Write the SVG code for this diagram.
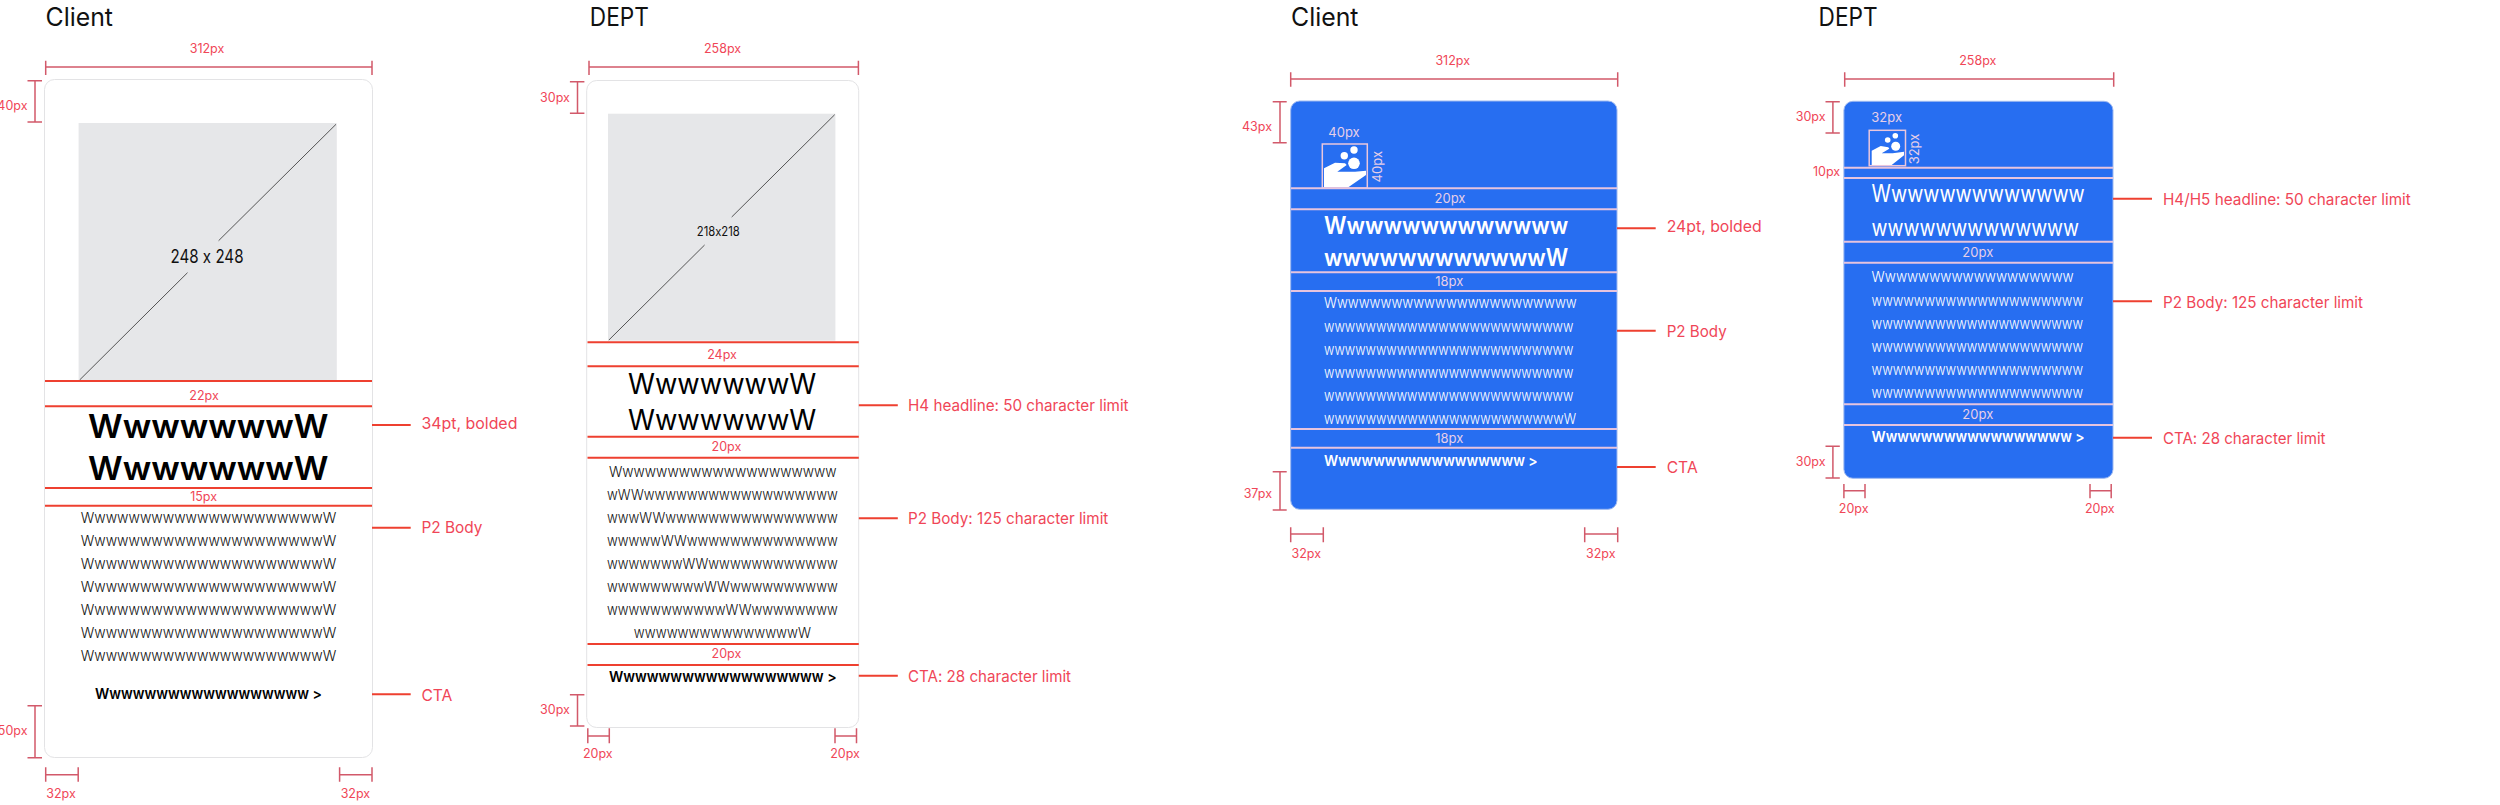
<svg xmlns="http://www.w3.org/2000/svg" width="2500" height="805" viewBox="0 0 2500 805">
<style>
text{font-family:"Inter","Liberation Sans",sans-serif;font-feature-settings:"calt" 0}
.title{font-size:25px;fill:#111}
.dim{font-size:12.5px;fill:#f04657}
.note{font-size:16px;fill:#f04657}
.m{stroke:#d2596a;stroke-width:1.5;fill:none}
.sep{stroke:#ee4030;stroke-width:2;fill:none}
.lead{stroke:#ee4030;stroke-width:2;fill:none}
.lsep{stroke:#e6c4de;stroke-width:2;fill:none}
.ldim{font-size:13px;fill:#e6cfe8}
.card{fill:#fff;stroke:#e3e3e5;stroke-width:1}
.bcard{fill:#276ef1;stroke:#9db8f0;stroke-width:1}
.img{fill:#e6e7e9}
.diag{stroke:#555;stroke-width:1;fill:none}
.head{fill:#000;font-weight:600;font-size:33px}
.head2{fill:#000;font-weight:400;font-size:28px}
.body{fill:#111;font-size:15px;font-weight:300}
.cta{fill:#000;font-weight:600;font-size:15px}
.wh{fill:#fff}
.ibox{fill:none;stroke:#eac6dc;stroke-width:1.5}
</style>

<g id="client-light">
<text class="title" x="45.5" y="26" textLength="67.5" lengthAdjust="spacingAndGlyphs">Client</text>
<rect class="card" x="44.5" y="79.5" width="328" height="678" rx="10"/>
<rect class="img" x="78.6" y="123" width="258.2" height="257"/>
<path class="diag" d="M79.6 380L187.5 272.7M218.6 240.7L336 124.3"/>
<text x="207" y="263.3" font-size="18" fill="#111" text-anchor="middle" textLength="73" lengthAdjust="spacingAndGlyphs">248 x 248</text>
<text class="head" x="88" y="438.3" textLength="240.5" lengthAdjust="spacingAndGlyphs">WwwwwwwW</text>
<text class="head" x="88" y="480" textLength="240.5" lengthAdjust="spacingAndGlyphs">WwwwwwwW</text>
<text class="body" x="80.7" y="522.7" textLength="255.5" lengthAdjust="spacingAndGlyphs">WwwwwwwwwwwwwwwwwwwwwW</text>
<text class="body" x="80.7" y="545.7" textLength="255.5" lengthAdjust="spacingAndGlyphs">WwwwwwwwwwwwwwwwwwwwwW</text>
<text class="body" x="80.7" y="568.7" textLength="255.5" lengthAdjust="spacingAndGlyphs">WwwwwwwwwwwwwwwwwwwwwW</text>
<text class="body" x="80.7" y="591.7" textLength="255.5" lengthAdjust="spacingAndGlyphs">WwwwwwwwwwwwwwwwwwwwwW</text>
<text class="body" x="80.7" y="614.7" textLength="255.5" lengthAdjust="spacingAndGlyphs">WwwwwwwwwwwwwwwwwwwwwW</text>
<text class="body" x="80.7" y="637.7" textLength="255.5" lengthAdjust="spacingAndGlyphs">WwwwwwwwwwwwwwwwwwwwwW</text>
<text class="body" x="80.7" y="660.7" textLength="255.5" lengthAdjust="spacingAndGlyphs">WwwwwwwwwwwwwwwwwwwwwW</text>
<text class="cta" x="95" y="699" textLength="227" lengthAdjust="spacingAndGlyphs">Wwwwwwwwwwwwwwwwww &gt;</text>
</g>

<g id="dept-light">
<text class="title" x="589.8" y="26" textLength="59" lengthAdjust="spacingAndGlyphs">DEPT</text>
<rect class="card" x="586.7" y="80.5" width="272" height="647" rx="10"/>
<rect class="img" x="608" y="113.7" width="227.4" height="227"/>
<path class="diag" d="M608.9 340L704.6 245M731.7 217L834.7 114.7"/>
<text x="718.3" y="235.7" font-size="12.5" fill="#111" text-anchor="middle" textLength="43" lengthAdjust="spacingAndGlyphs">218x218</text>
<text class="head2" x="628" y="394.3" textLength="188.3" lengthAdjust="spacingAndGlyphs">WwwwwwwW</text>
<text class="head2" x="628" y="430" textLength="188.3" lengthAdjust="spacingAndGlyphs">WwwwwwwW</text>
<text class="body" x="608.9" y="476.7" textLength="227.7" lengthAdjust="spacingAndGlyphs">Wwwwwwwwwwwwwwwwwwww</text>
<text class="body" x="607" y="499.7" textLength="230.7" lengthAdjust="spacingAndGlyphs">wWWwwwwwwwwwwwwwwwwww</text>
<text class="body" x="607" y="522.7" textLength="230.7" lengthAdjust="spacingAndGlyphs">wwwWWwwwwwwwwwwwwwwww</text>
<text class="body" x="607" y="545.7" textLength="230.7" lengthAdjust="spacingAndGlyphs">wwwwwWWwwwwwwwwwwwwww</text>
<text class="body" x="607" y="568.7" textLength="230.7" lengthAdjust="spacingAndGlyphs">wwwwwwwWWwwwwwwwwwwww</text>
<text class="body" x="607" y="591.7" textLength="230.7" lengthAdjust="spacingAndGlyphs">wwwwwwwwwWWwwwwwwwwww</text>
<text class="body" x="607" y="614.7" textLength="230.7" lengthAdjust="spacingAndGlyphs">wwwwwwwwwwwWWwwwwwwww</text>
<text class="body" x="633.8" y="637.7" textLength="177.2" lengthAdjust="spacingAndGlyphs">wwwwwwwwwwwwwwwW</text>
<text class="cta" x="608.9" y="681.7" textLength="227.7" lengthAdjust="spacingAndGlyphs">Wwwwwwwwwwwwwwwwww &gt;</text>
</g>

<g id="client-blue">
<text class="title" x="1291" y="26" textLength="67.5" lengthAdjust="spacingAndGlyphs">Client</text>
<rect class="bcard" x="1290.7" y="101" width="326.3" height="408.3" rx="9"/>
<g id="client-icon">
<circle cx="1344.3" cy="155.7" r="3.7" fill="#fff"/>
<circle cx="1354" cy="150" r="3.7" fill="#fff"/>
<circle cx="1354" cy="163.3" r="5.8" fill="#fff"/>
<path fill="#fff" d="M1324 168.3L1335 162.7L1345 163.3L1346.7 165L1337.3 171.7L1355 171.7L1366 170.7L1366 175L1348.3 187.3L1324 187.3Z"/>
<rect class="ibox" x="1322.3" y="144" width="45" height="44"/>
</g>
<text class="ldim" x="1344" y="137.3" text-anchor="middle">40px</text>
<text class="ldim" transform="translate(1381.7 166.7) rotate(-90)" text-anchor="middle">40px</text>
<text class="wh" font-size="24" font-weight="600" x="1324" y="234.3" textLength="244.3" lengthAdjust="spacingAndGlyphs">Wwwwwwwwwwwww</text>
<text class="wh" font-size="24" font-weight="600" x="1324" y="265.7" textLength="244.3" lengthAdjust="spacingAndGlyphs">wwwwwwwwwwwwW</text>
<text class="wh body" x="1324" y="308.3" textLength="252.7" lengthAdjust="spacingAndGlyphs">Wwwwwwwwwwwwwwwwwwwwwww</text>
<text class="wh body" x="1324" y="331.7" textLength="249.3" lengthAdjust="spacingAndGlyphs">wwwwwwwwwwwwwwwwwwwwwwww</text>
<text class="wh body" x="1324" y="354.7" textLength="249.3" lengthAdjust="spacingAndGlyphs">wwwwwwwwwwwwwwwwwwwwwwww</text>
<text class="wh body" x="1324" y="377.7" textLength="249.3" lengthAdjust="spacingAndGlyphs">wwwwwwwwwwwwwwwwwwwwwwww</text>
<text class="wh body" x="1324" y="400.7" textLength="249.3" lengthAdjust="spacingAndGlyphs">wwwwwwwwwwwwwwwwwwwwwwww</text>
<text class="wh body" x="1324" y="423.7" textLength="252" lengthAdjust="spacingAndGlyphs">wwwwwwwwwwwwwwwwwwwwwwwW</text>
<text class="wh cta" x="1324" y="465.7" textLength="213.7" lengthAdjust="spacingAndGlyphs">Wwwwwwwwwwwwwwwww &gt;</text>
</g>

<g id="dept-blue">
<text class="title" x="1818.6" y="26" textLength="59" lengthAdjust="spacingAndGlyphs">DEPT</text>
<rect class="bcard" x="1843.9" y="101.3" width="269.1" height="377" rx="9"/>
<g id="dept-icon">
<circle cx="1887.7" cy="140" r="2.8" fill="#fff"/>
<circle cx="1895.3" cy="135.7" r="2.8" fill="#fff"/>
<circle cx="1895.7" cy="146.3" r="4.5" fill="#fff"/>
<path fill="#fff" d="M1871.7 150.7L1880.7 146L1888.3 147.3L1889.3 148.7L1881.7 153.3L1892.7 153.3L1904 151.7L1904 155.3L1891.7 165L1871.7 165Z"/>
<rect class="ibox" x="1869.2" y="130.3" width="36.3" height="35.4"/>
</g>
<text class="ldim" x="1886.7" y="122.3" text-anchor="middle">32px</text>
<text class="ldim" transform="translate(1918.5 149) rotate(-90)" text-anchor="middle">32px</text>
<text class="wh" font-size="24" x="1871.6" y="202.3" textLength="213.1" lengthAdjust="spacingAndGlyphs">Wwwwwwwwwwwww</text>
<text class="wh" font-size="24" x="1871.6" y="236" textLength="207.4" lengthAdjust="spacingAndGlyphs">wwwwwwwwwwwww</text>
<text class="wh body" x="1871.6" y="282.3" textLength="202.1" lengthAdjust="spacingAndGlyphs">Wwwwwwwwwwwwwwwwww</text>
<text class="wh body" x="1871.6" y="305.7" textLength="211.4" lengthAdjust="spacingAndGlyphs">wwwwwwwwwwwwwwwwwwww</text>
<text class="wh body" x="1871.6" y="328.7" textLength="211.4" lengthAdjust="spacingAndGlyphs">wwwwwwwwwwwwwwwwwwww</text>
<text class="wh body" x="1871.6" y="351.7" textLength="211.4" lengthAdjust="spacingAndGlyphs">wwwwwwwwwwwwwwwwwwww</text>
<text class="wh body" x="1871.6" y="374.7" textLength="211.4" lengthAdjust="spacingAndGlyphs">wwwwwwwwwwwwwwwwwwww</text>
<text class="wh body" x="1871.6" y="397.7" textLength="211.4" lengthAdjust="spacingAndGlyphs">wwwwwwwwwwwwwwwwwwww</text>
<text class="wh cta" x="1871.6" y="441.7" textLength="213.1" lengthAdjust="spacingAndGlyphs">Wwwwwwwwwwwwwwwww &gt;</text>
</g>

<g id="connectors">
<path class="m" d="M45.7 67H372M45.7 60.7V75M372 60.7V75M35 80.7V122M27.5 80.7H42M27.5 122H42M35 705.7V757.7M27.5 705.7H42M27.5 757.7H42M45.7 774.7H78.2M45.7 767.3V781.7M78.2 767.3V781.7M339.6 774.7H372M339.6 767.3V781.7M372 767.3V781.7"/>
<path class="sep" d="M45 381H372M45 406.3H372M45 488H372M45 505.7H372"/>
<path class="lead" d="M372 425H410.7M372 527.7H410.7M372 694.3H410.7"/>
<path class="m" d="M589 67H858.4M589 60.7V75M858.4 60.7V75M577.5 81.7V113.3M569.9 81.7H584.4M569.9 113.3H584.4M577.5 694.7V726M569.9 694.7H584.4M569.9 726H584.4M587.8 736H609.3M587.8 728.3V743.3M609.3 728.3V743.3M835 736H856.5M835 728.3V743.3M856.5 728.3V743.3"/>
<path class="sep" d="M587.5 342.3H858.8M587.5 366.3H858.8M587.5 436.7H858.8M587.5 457.7H858.8M587.5 644H858.8M587.5 665H858.8"/>
<path class="lead" d="M858.8 405.3H897.8M858.8 518.3H897.8M858.8 675.7H897.8"/>
<path class="m" d="M1290.7 79H1617.7M1290.7 72.3V86.7M1617.7 72.3V86.7M1280 101.7V142.7M1272.7 101.7H1286.7M1272.7 142.7H1286.7M1280 471.7V510M1272.7 471.7H1286.7M1272.7 510H1286.7M1290.7 534H1323.3M1290.7 527.3V542.3M1323.3 527.3V542.3M1584.7 534H1617.7M1584.7 527.3V542.3M1617.7 527.3V542.3"/>
<path class="lsep" d="M1291 188.3H1617M1291 209.3H1617M1291 272.3H1617M1291 291H1617M1291 429H1617M1291 447.7H1617"/>
<path class="lead" d="M1617 228.3H1655.7M1617 330.7H1655.7M1617 467H1655.7"/>
<path class="m" d="M1844.7 79H2113.7M1844.7 72.3V86.7M2113.7 72.3V86.7M1832.9 101.7V133M1825.5 101.7H1839.8M1825.5 133H1839.8M1832.9 446.3V478M1825.5 446.3H1839.8M1825.5 478H1839.8M1843.9 490.7H1865M1843.9 484V498.3M1865 484V498.3M2090 490.7H2111.2M2090 484V498.3M2111.2 484V498.3"/>
<path class="lsep" d="M1844 167.7H2113M1844 178H2113M1844 241.7H2113M1844 262.7H2113M1844 404.3H2113M1844 425H2113"/>
<path class="lead" d="M2113 198.7H2152M2113 301.3H2152M2113 437.7H2152"/>
</g>

<g id="annotations">
<text class="dim" x="207" y="53.3" text-anchor="middle">312px</text>
<text class="dim" x="27.5" y="110" text-anchor="end">40px</text>
<text class="dim" x="204" y="400" text-anchor="middle">22px</text>
<text class="dim" x="203.6" y="500.7" text-anchor="middle">15px</text>
<text class="dim" x="27.5" y="735" text-anchor="end">50px</text>
<text class="dim" x="61" y="798.3" text-anchor="middle">32px</text>
<text class="dim" x="355.4" y="798.3" text-anchor="middle">32px</text>
<text class="note" x="421.4" y="429.3" textLength="96" lengthAdjust="spacingAndGlyphs">34pt, bolded</text>
<text class="note" x="421.4" y="533" textLength="61" lengthAdjust="spacingAndGlyphs">P2 Body</text>
<text class="note" x="421.4" y="701" textLength="31" lengthAdjust="spacingAndGlyphs">CTA</text>

<text class="dim" x="722.5" y="53.3" text-anchor="middle">258px</text>
<text class="dim" x="569.9" y="101.7" text-anchor="end">30px</text>
<text class="dim" x="722" y="359.3" text-anchor="middle">24px</text>
<text class="dim" x="726.4" y="451" text-anchor="middle">20px</text>
<text class="dim" x="726.4" y="658.3" text-anchor="middle">20px</text>
<text class="dim" x="569.9" y="714" text-anchor="end">30px</text>
<text class="dim" x="597.8" y="758.3" text-anchor="middle">20px</text>
<text class="dim" x="845" y="758.3" text-anchor="middle">20px</text>
<text class="note" x="908" y="411" textLength="220.6" lengthAdjust="spacingAndGlyphs">H4 headline: 50 character limit</text>
<text class="note" x="908" y="524" textLength="200.3" lengthAdjust="spacingAndGlyphs">P2 Body: 125 character limit</text>
<text class="note" x="908" y="681.7" textLength="163" lengthAdjust="spacingAndGlyphs">CTA: 28 character limit</text>

<text class="dim" x="1452.7" y="65" text-anchor="middle">312px</text>
<text class="dim" x="1272" y="130.7" text-anchor="end">43px</text>
<text class="dim" x="1272" y="498.3" text-anchor="end">37px</text>
<text class="dim" x="1306.3" y="558.3" text-anchor="middle">32px</text>
<text class="dim" x="1600.7" y="558.3" text-anchor="middle">32px</text>
<text class="ldim" x="1450" y="202.7" text-anchor="middle">20px</text>
<text class="ldim" x="1449.3" y="286" text-anchor="middle">18px</text>
<text class="ldim" x="1449.3" y="442.7" text-anchor="middle">18px</text>
<text class="note" x="1666.7" y="232.3" textLength="95" lengthAdjust="spacingAndGlyphs">24pt, bolded</text>
<text class="note" x="1666.7" y="336.7" textLength="60" lengthAdjust="spacingAndGlyphs">P2 Body</text>
<text class="note" x="1666.7" y="472.7" textLength="31" lengthAdjust="spacingAndGlyphs">CTA</text>

<text class="dim" x="1977.8" y="65" text-anchor="middle">258px</text>
<text class="dim" x="1825.5" y="121" text-anchor="end">30px</text>
<text class="dim" x="1840.2" y="175.7" text-anchor="end">10px</text>
<text class="dim" x="1825.5" y="466" text-anchor="end">30px</text>
<text class="dim" x="1853.7" y="513.3" text-anchor="middle">20px</text>
<text class="dim" x="2099.8" y="513.3" text-anchor="middle">20px</text>
<text class="ldim" x="1977.8" y="256.7" text-anchor="middle">20px</text>
<text class="ldim" x="1977.8" y="418.7" text-anchor="middle">20px</text>
<text class="note" x="2163" y="205.3" textLength="247.8" lengthAdjust="spacingAndGlyphs">H4/H5 headline: 50 character limit</text>
<text class="note" x="2163" y="307.7" textLength="200" lengthAdjust="spacingAndGlyphs">P2 Body: 125 character limit</text>
<text class="note" x="2163" y="444" textLength="162.5" lengthAdjust="spacingAndGlyphs">CTA: 28 character limit</text>
</g>
</svg>
